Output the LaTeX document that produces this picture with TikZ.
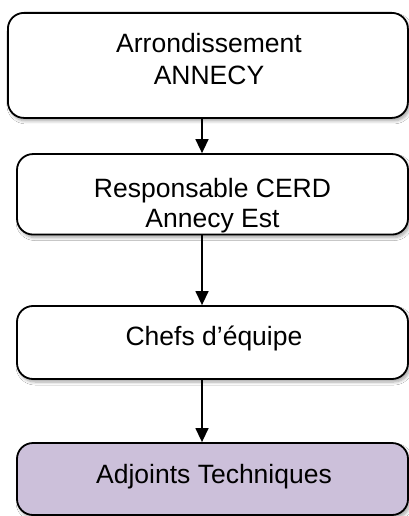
\documentclass[tikz,border=0pt]{standalone}
\usepackage{fontspec}
\setmainfont{Liberation Sans}
\usetikzlibrary{arrows.meta,shadows.blur}
\definecolor{lav}{RGB}{204,192,218}
\tikzset{
  box/.style={draw=black, line width=1.8pt, rounded corners=16pt, fill=white, inner sep=0pt,
    blur shadow={shadow xshift=2pt, shadow yshift=-3pt, shadow blur steps=6, shadow blur radius=3pt, shadow opacity=35}},
  lbl/.style={anchor=base, inner sep=0pt, font=\fontsize{26.5}{32}\selectfont},
  arr/.style={line width=1.4pt, -{Triangle[width=13pt,length=14pt]}}
}
\begin{document}
\begin{tikzpicture}[x=1pt,y=1pt]
\useasboundingbox (0,0) rectangle (409,-516);
\fill[white] (0,0) rectangle (409,-516);
\node[box, minimum width=400pt, minimum height=105pt] (b1) at (207.9,-65.4) {};
\node[box, minimum width=391pt, minimum height=80.5pt] (b2) at (212.5,-194.3) {};
\node[box, minimum width=391pt, minimum height=73pt] (b3) at (212.5,-342.5) {};
\node[box, fill=lav, minimum width=391pt, minimum height=72pt] (b4) at (212.5,-479) {};
\node[lbl] (t1a) at (209,-53) {Arrondissement};
\node[lbl] (t1b) at (209,-85) {ANNECY};
\node[lbl] (t2a) at (212.5,-197) {Responsable CERD};
\node[lbl] (t2b) at (212.5,-227) {Annecy Est};
\node[lbl] (t3) at (214,-345) {Chefs d’équipe};
\node[lbl] (t4) at (214,-483) {Adjoints Techniques};
\draw[arr] ([xshift=-5.9pt]b1.south) -- ([xshift=-10.5pt]b2.north);
\draw[arr] ([xshift=-10.5pt]b2.south) -- ([xshift=-10.5pt]b3.north);
\draw[arr] ([xshift=-10.5pt]b3.south) -- ([xshift=-10.5pt]b4.north);
\end{tikzpicture}
\end{document}
